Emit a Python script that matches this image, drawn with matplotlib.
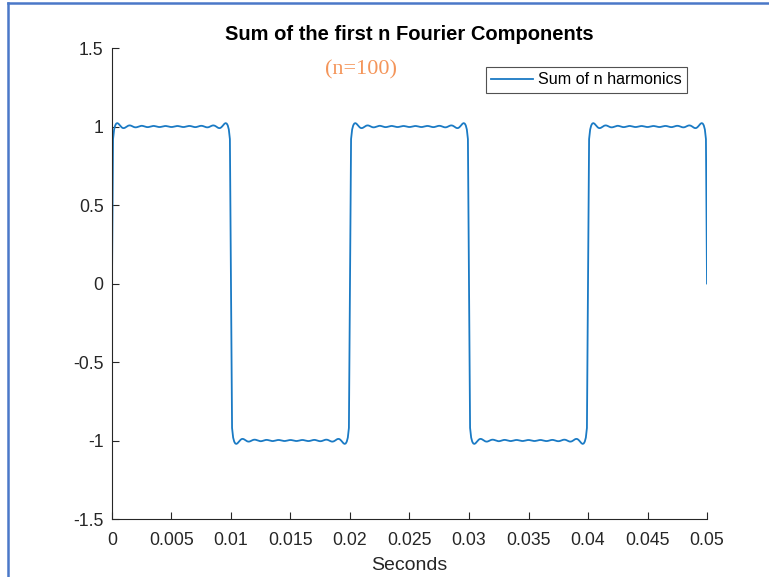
import numpy as np
import matplotlib
matplotlib.use("Agg")
import matplotlib.pyplot as plt
from matplotlib.lines import Line2D

# Square-wave partial Fourier sum: first n odd harmonics of a 50 Hz wave
n_terms = 100
fundamental_hz = 50.0
t_end = 0.05
n_samples = 551

x_ticks = [0, 0.005, 0.01, 0.015, 0.02, 0.025, 0.03, 0.035, 0.04, 0.045, 0.05]
x_tick_labels = ["0", "0.005", "0.01", "0.015", "0.02", "0.025", "0.03",
                 "0.035", "0.04", "0.045", "0.05"]
y_ticks = [-1.5, -1, -0.5, 0, 0.5, 1, 1.5]
y_tick_labels = ["-1.5", "-1", "-0.5", "0", "0.5", "1", "1.5"]

t = np.linspace(0.0, t_end, n_samples)
harmonics = 2 * np.arange(1, n_terms + 1) - 1
y = np.zeros_like(t)
for k in harmonics:
    y += (4.0 / np.pi) * np.sin(2 * np.pi * fundamental_hz * k * t) / k

plt.rcParams["font.family"] = ["Liberation Sans", "DejaVu Sans"]
ink = "#262626"

fig = plt.figure(figsize=(7.69, 5.77), dpi=100)
ax = fig.add_axes([0.1456, 0.1005, 0.7738, 0.8163])

ax.plot(t, y, color="#1A7AC4", lw=1.3, label="Sum of n harmonics")

ax.set_xlim(0, 0.05)
ax.set_ylim(-1.5, 1.5)
ax.set_xticks(x_ticks)
ax.set_xticklabels(x_tick_labels)
ax.set_yticks(y_ticks)
ax.set_yticklabels(y_tick_labels)
ax.tick_params(direction="in", length=5, width=0.8, colors=ink,
               labelsize=12.7)
ax.tick_params(axis="x", pad=9)
ax.tick_params(axis="y", pad=6)
for side in ("top", "right"):
    ax.spines[side].set_visible(False)
for side in ("left", "bottom"):
    ax.spines[side].set_color(ink)
    ax.spines[side].set_linewidth(0.8)

ax.set_xlabel("Seconds", fontsize=14, color=ink, labelpad=6)
ax.set_title("Sum of the first n Fourier Components", fontsize=14.5,
             fontweight="bold", color="black", pad=6)

ax.text(0.0209, 1.36, "(n=100)", fontsize=16, color="#F4955A",
        family=["Liberation Serif", "DejaVu Serif"], ha="center", va="center")

leg = ax.legend(loc="upper right", bbox_to_anchor=(0.9664, 0.9597),
                fontsize=11.6, frameon=True, fancybox=False, handlelength=2.6,
                handletextpad=0.3, borderpad=0.33, borderaxespad=0.0)
leg.get_frame().set_edgecolor(ink)
leg.get_frame().set_linewidth(0.8)

# window border along the left and top edges
fig.add_artist(Line2D([8 / 769, 8 / 769], [0, 1 - 3 / 577],
                      transform=fig.transFigure, color="#4A78C8", lw=1.8))
fig.add_artist(Line2D([8 / 769, 1], [1 - 3 / 577, 1 - 3 / 577],
                      transform=fig.transFigure, color="#4A78C8", lw=1.8))

fig.savefig("out.png", dpi=100)
